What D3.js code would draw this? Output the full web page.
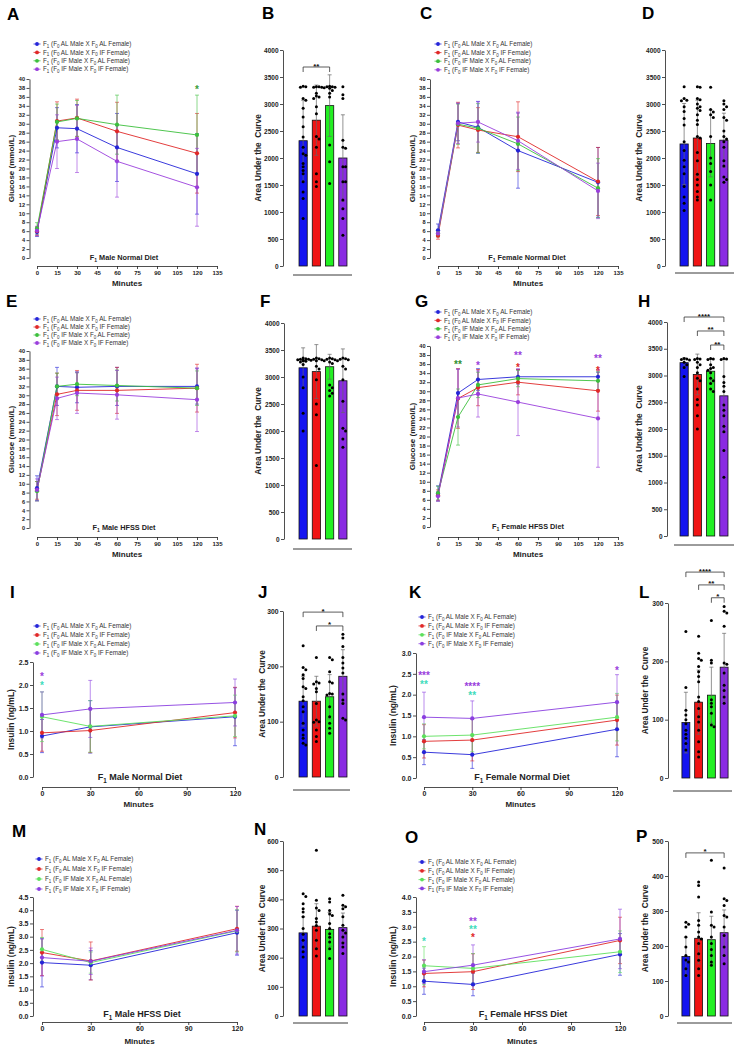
<!DOCTYPE html>
<html>
<head>
<meta charset="utf-8">
<script src="https://cdn.jsdelivr.net/npm/d3@7"></script>
<style>
  body { margin: 0; background: #fff; }
  svg { display: block; font-family: "Liberation Sans", Arial, sans-serif; }
</style>
</head>
<body>
<script>
// ---- groups / ticks ----
const groupLabels = [
  "F_1 (F_0 AL Male X F_0 AL Female)",
  "F_1 (F_0 AL Male X F_0 IF Female)",
  "F_1 (F_0 IF Male X F_0 AL Female)",
  "F_1 (F_0 IF Male X F_0 IF Female)"
];
const groupKeys = ["ALxAL", "ALxIF", "IFxAL", "IFxIF"];
const glucTimes = [0, 15, 30, 60, 120];
const insTimes = [0, 30, 120];
const glucXTicks = [0, 15, 30, 45, 60, 75, 90, 105, 120, 135];
const insXTicks = [0, 30, 60, 90, 120];
const glucYTicks = [0, 2, 4, 6, 8, 10, 12, 14, 16, 18, 20, 22, 24, 26, 28, 30, 32, 34, 36, 38, 40];
const insYTicksI = [0, 0.5, 1.0, 1.5, 2.0, 2.5];
const insYTicksK = [0, 0.5, 1.0, 1.5, 2.0, 2.5, 3.0];
const insYTicksM = [0, 0.5, 1.0, 1.5, 2.0, 2.5, 3.0, 3.5, 4.0, 4.5];
const insYTicksO = [0, 0.5, 1.0, 1.5, 2.0, 2.5, 3.0, 3.5, 4.0];
const aucTicksGluc = [0, 500, 1000, 1500, 2000, 2500, 3000, 3500, 4000];
const aucTicks300 = [0, 100, 200, 300];
const aucTicks600 = [0, 100, 200, 300, 400, 500, 600];
const aucTicks500 = [0, 100, 200, 300, 400, 500];

// ---- glucose tolerance (mean / SD), order: ALxAL, ALxIF, IFxAL, IFxIF ----
const glucMaleND = [[5.8, 29.1, 28.9, 24.7, 18.8], [6.0, 30.6, 31.3, 28.3, 23.4], [6.6, 30.4, 31.2, 29.8, 27.5], [6.1, 26.0, 26.6, 21.6, 15.8]];
const glucMaleNDSd = [[1.0, 4.5, 5.4, 7.6, 9.0], [1.0, 4.3, 4.2, 6.5, 8.9], [1.3, 4.0, 4.0, 6.6, 8.9], [1.0, 6.0, 7.5, 8.0, 8.7]];
const glucFemND = [[6.2, 30.4, 29.2, 24.0, 16.9], [5.0, 29.7, 28.6, 27.1, 17.1], [5.5, 29.9, 29.0, 25.5, 15.6], [5.5, 30.1, 30.4, 26.2, 15.0]];
const glucFemNDSd = [[1.4, 4.2, 5.8, 8.4, 7.8], [0.8, 5.1, 5.0, 7.8, 7.6], [0.8, 4.5, 5.5, 6.0, 6.6], [0.7, 4.5, 4.5, 6.4, 6.2]];
const glucMaleHF = [[9.0, 32.0, 31.8, 32.0, 32.0], [8.5, 30.2, 31.1, 31.1, 31.6], [8.3, 32.0, 32.5, 32.2, 31.6], [8.6, 29.3, 30.5, 30.1, 29.0]];
const glucMaleHFSd = [[2.8, 4.3, 3.5, 4.3, 4.0], [2.0, 4.8, 4.5, 5.2, 5.4], [2.2, 3.0, 2.6, 3.5, 3.9], [2.5, 4.8, 4.6, 5.5, 7.2]];
const glucFemHF = [[7.4, 29.6, 32.6, 33.2, 33.2], [7.0, 28.4, 30.8, 32.0, 30.1], [7.5, 24.3, 31.4, 32.8, 32.3], [6.8, 28.5, 29.4, 27.6, 24.0]];
const glucFemHFSd = [[1.7, 5.3, 2.4, 1.6, 1.0], [1.2, 6.6, 4.0, 2.8, 4.5], [1.5, 6.2, 2.8, 1.8, 2.0], [1.0, 6.4, 5.1, 7.4, 10.8]];

// ---- insulin (mean / SD) ----
const insMaleND = [[0.89, 1.09, 1.31], [0.96, 1.01, 1.40], [1.31, 1.10, 1.33], [1.35, 1.48, 1.62]];
const insMaleNDSd = [[0.36, 0.57, 0.63], [0.40, 0.48, 0.55], [0.54, 0.56, 0.45], [0.50, 0.62, 0.51]];
const insFemND = [[0.62, 0.56, 1.17], [0.88, 0.91, 1.39], [1.00, 1.03, 1.46], [1.46, 1.43, 1.82]];
const insFemNDSd = [[0.30, 0.33, 0.66], [0.40, 0.50, 0.60], [0.30, 0.40, 0.57], [0.60, 0.42, 0.66]];
const insMaleHF = [[2.02, 1.92, 3.15], [2.40, 2.08, 3.30], [2.52, 2.02, 3.22], [2.21, 2.07, 3.24]];
const insMaleHFSd = [[0.92, 0.55, 0.85], [0.87, 0.72, 0.85], [0.45, 0.40, 0.80], [0.70, 0.50, 0.90]];
const insFemHF = [[1.17, 1.06, 2.07], [1.43, 1.49, 2.54], [1.69, 1.60, 2.16], [1.49, 1.71, 2.59]];
const insFemHFSd = [[0.44, 0.38, 0.70], [0.45, 0.60, 0.78], [0.64, 0.50, 0.70], [0.40, 0.68, 1.00]];

// ---- area under the curve: bar means, SD, individual animals ----
const aucB = [2320, 2700, 2970, 2000];
const aucBSd = [750, 650, 570, 800];
const aucBDots = [
  [3330, 3320, 3310, 3100, 3070, 2920, 2760, 2580, 2390, 2200, 2080, 2050, 1900, 1840, 1770, 1710, 1560, 1370, 1250, 880],
  [3320, 3320, 3310, 3310, 3200, 3150, 3130, 3100, 2950, 2820, 2400, 2350, 2200, 1710, 1560, 1470],
  [3330, 3320, 3320, 3310, 3300, 3290, 3250, 3200, 3130, 2240, 1930, 1530],
  [3320, 3170, 3100, 2330, 2200, 2180, 1840, 1840, 1560, 1560, 1220, 1060, 880, 570]
];
const aucD = [2260, 2370, 2270, 2330];
const aucDSd = [750, 700, 620, 500];
const aucDDots = [
  [3320, 3100, 3070, 3060, 2950, 2860, 2730, 2610, 2300, 2140, 1960, 1840, 1710, 1470, 1280, 1160, 1030],
  [3320, 3310, 3100, 3080, 3000, 2950, 2920, 2880, 2800, 2700, 2620, 2400, 2370, 2100, 1950, 1700, 1600, 1500, 1380, 1280, 1220],
  [3310, 2900, 2850, 2800, 2750, 2400, 2000, 1900, 1750, 1500, 1220],
  [3060, 3000, 2950, 2900, 2750, 2700, 2500, 2400, 2350, 2300, 2200, 1950, 1850, 1650, 1600, 1550]
];
const aucF = [3170, 3100, 3190, 2930];
const aucFSd = [370, 500, 230, 590];
const aucFDots = [
  [3350, 3340, 3330, 3330, 3320, 3310, 3300, 3290, 3280, 3230, 3000, 2800, 2330, 2000],
  [3350, 3340, 3330, 3320, 3310, 3300, 3200, 3150, 2950, 2500, 2300, 1360],
  [3350, 3340, 3330, 3320, 3300, 3280, 3250, 2850, 2800, 2750, 2700, 2650],
  [3350, 3340, 3330, 3320, 3300, 3200, 3150, 2950, 2550, 2050, 2000, 1850, 1700]
];
const aucH = [3240, 3020, 3080, 2620];
const aucHSd = [90, 380, 220, 680];
const aucHDots = [
  [3320, 3310, 3300, 3290, 3250, 3200, 3150, 2980],
  [3320, 3310, 3300, 3250, 3200, 3150, 3050, 2950, 2900, 2750, 2550, 2450, 2250, 2000],
  [3320, 3310, 3300, 3200, 3150, 3130, 3100, 3050, 2950, 2900, 2850, 2750, 2700],
  [3320, 3310, 3300, 2980, 2870, 2800, 2700, 2450, 2350, 2250, 2050, 1950, 1600, 1100]
];
const aucJ = [137, 137, 145, 182];
const aucJSd = [45, 45, 40, 48];
const aucJDots = [
  [237, 198, 194, 185, 178, 163, 160, 145, 138, 127, 118, 97, 85, 76, 70, 61, 58],
  [216, 172, 170, 168, 160, 154, 133, 103, 100, 99, 85, 73, 64],
  [216, 212, 190, 172, 170, 151, 150, 148, 127, 109, 97, 88, 79],
  [258, 251, 236, 216, 206, 197, 188, 150, 139, 133, 106, 103]
];
const aucL = [95, 130, 142, 190];
const aucLSd = [52, 55, 48, 58];
const aucLDots = [
  [251, 155, 116, 108, 100, 93, 82, 75, 68, 59, 48],
  [243, 214, 205, 202, 191, 182, 174, 165, 139, 131, 119, 105, 96, 82, 62, 45, 36],
  [270, 202, 197, 134, 128, 122, 111, 91, 88],
  [294, 286, 283, 260, 197, 195, 180, 159, 150, 139, 128]
];
const aucN = [285, 308, 297, 303];
const aucNSd = [55, 77, 58, 50];
const aucNDots = [
  [419, 410, 385, 368, 357, 340, 300, 280, 260, 237, 220, 202],
  [568, 397, 370, 362, 334, 322, 310, 294, 260, 231, 206],
  [402, 391, 362, 350, 345, 317, 300, 282, 270, 254, 231, 197],
  [414, 380, 375, 368, 340, 311, 294, 285, 271, 250, 237, 214]
];
const aucP = [170, 222, 218, 238];
const aucPSd = [55, 73, 67, 65];
const aucPDots = [
  [268, 262, 254, 226, 197, 173, 160, 154, 135, 116],
  [383, 373, 340, 273, 259, 240, 226, 220, 207, 178, 159, 135, 116],
  [445, 297, 259, 254, 226, 207, 190, 173, 154, 145],
  [423, 335, 330, 316, 287, 283, 254, 230, 197, 173, 149]
];

// ---- styles ----
const lineColors = ["#2424d8", "#e02828", "#3cbf3c", "#9a3edc"];
const lineColorsIns = ["#2424d8", "#e02828", "#5ce05c", "#8a3ee0"];
const barColors = ["#1414f0", "#f01414", "#22f022", "#8a2be2"];
const teal = "#3fdcbc";
const ink = "#222";

const svg = d3.select("body").append("svg").attr("width", 742).attr("height", 1053);
svg.append("rect").attr("width", 742).attr("height", 1053).attr("fill", "#fff");

// text with "_d" subscripts
function rich(t, str, fs) {
  const parts = str.split(/_(\d)/);
  let shift = 0;
  parts.forEach((p, i) => {
    if (i % 2 === 1) {
      t.append("tspan").attr("font-size", fs * 0.7).attr("dy", fs * 0.28).text(p);
      shift = -fs * 0.28;
    } else if (p) {
      t.append("tspan").attr("dy", shift).text(p);
      shift = 0;
    }
  });
  return t;
}

function styleAxis(ax, fs) {
  ax.attr("font-family", null).attr("font-size", fs).attr("font-weight", "bold");
  ax.select(".domain").attr("stroke", ink).attr("stroke-width", 0.8);
  ax.selectAll(".tick line").attr("stroke", ink).attr("stroke-width", 0.8);
  ax.selectAll(".tick text").attr("fill", ink);
}

function letter(ch, x, y) {
  svg.append("text").attr("x", x).attr("y", y).attr("font-size", 17).attr("font-weight", "bold")
    .attr("fill", "#000").text(ch);
}

function linePanel(o) {
  const g = svg.append("g");
  const x = d3.scaleLinear().domain([0, o.xTicks[o.xTicks.length - 1]]).range(o.xRange);
  const y = d3.scaleLinear().domain([0, o.yTicks[o.yTicks.length - 1]]).range(o.yRange);

  const yAx = g.append("g").attr("transform", `translate(${o.axisX},0)`)
    .call(d3.axisLeft(y).tickValues(o.yTicks).tickSize(3).tickSizeOuter(0).tickPadding(1.5)
      .tickFormat(o.yFmt));
  styleAxis(yAx, o.yFs);
  const xAx = g.append("g").attr("transform", `translate(0,${o.xAxisY})`)
    .call(d3.axisBottom(x).tickValues(o.xTicks).tickSize(3).tickSizeOuter(0).tickPadding(1.5));
  styleAxis(xAx, o.xFs);

  g.append("text").attr("x", (o.xRange[0] + o.xRange[1]) / 2).attr("y", o.xAxisY + o.minDy)
    .attr("text-anchor", "middle").attr("font-size", 8).attr("font-weight", "bold").attr("fill", ink)
    .text("Minutes");
  g.append("text")
    .attr("transform", `translate(${o.yLabelX},${(o.yRange[0] + o.yRange[1]) / 2}) rotate(-90)`)
    .attr("text-anchor", "middle").attr("font-size", o.yLabelFs).attr("font-weight", "bold").attr("fill", ink)
    .text(o.yLabel);
  rich(g.append("text").attr("x", o.titleX).attr("y", o.titleY).attr("text-anchor", "middle")
    .attr("font-size", o.titleFs).attr("font-weight", "bold").attr("fill", ink), o.title, o.titleFs);

  const series = o.means.map((m, i) => o.times.map((t, j) => ({ t, m: m[j], s: o.sd[i][j], i })));
  const line = d3.line().x(d => x(d.t)).y(d => y(d.m));

  series.forEach(pts => {
    g.append("g").selectAll("path").data(pts).join("path")
      .attr("d", d => `M${x(d.t) - 2},${y(d.m + d.s)}h4M${x(d.t)},${y(d.m + d.s)}V${y(d.m - d.s)}M${x(d.t) - 2},${y(d.m - d.s)}h4`)
      .attr("stroke", o.colors[pts[0].i]).attr("stroke-width", 0.7).attr("fill", "none").attr("opacity", 0.85);
  });
  series.forEach(pts => {
    g.append("path").datum(pts).attr("d", line).attr("fill", "none")
      .attr("stroke", o.colors[pts[0].i]).attr("stroke-width", 0.9);
  });
  series.forEach(pts => {
    g.append("g").selectAll("circle").data(pts).join("circle")
      .attr("cx", d => x(d.t)).attr("cy", d => y(d.m)).attr("r", 2.1)
      .attr("fill", o.colors[pts[0].i]);
  });

  // legend
  const lg = g.append("g");
  groupLabels.forEach((lab, i) => {
    const ly = o.legend[1] + i * o.legend[2];
    lg.append("line").attr("x1", o.legend[0] - 3.5).attr("x2", o.legend[0] + 3.5).attr("y1", ly).attr("y2", ly)
      .attr("stroke", o.colors[i]).attr("stroke-width", 0.8);
    lg.append("circle").attr("cx", o.legend[0]).attr("cy", ly).attr("r", 1.9).attr("fill", o.colors[i]);
    rich(lg.append("text").attr("x", o.legend[0] + 6).attr("y", ly + 2.2).attr("font-size", 6.3)
      .attr("fill", "#333"), lab, 6.3);
  });

  // significance stars (glyph sits high in the em box, so baseline is pushed down)
  (o.stars || []).forEach(s => {
    g.append("text").attr("x", x(s.t)).attr("y", y(s.v) + 4.6).attr("text-anchor", "middle")
      .attr("font-size", 10).attr("font-weight", "bold").attr("fill", s.c).text(s.txt);
  });
}

function swarm(vals, y, r, half) {
  const order = vals.map((v, i) => i).sort((a, b) => vals[b] - vals[a]);
  const placed = [];
  const off = vals.map(() => 0);
  const step = 2 * r * 0.9;
  order.forEach(i => {
    const py = y(vals[i]);
    let chosen = 0;
    for (let k = 0; k < 9; k++) {
      const c = k === 0 ? 0 : (k % 2 ? 1 : -1) * Math.ceil(k / 2) * step;
      if (Math.abs(c) > half) continue;
      const ok = placed.every(p => (c - p.x) ** 2 + (py - p.y) ** 2 >= (2 * r * 0.9) ** 2);
      if (ok) { chosen = c; break; }
    }
    placed.push({ x: chosen, y: py });
    off[i] = chosen;
  });
  return off;
}

function aucPanel(o) {
  const g = svg.append("g");
  const y = d3.scaleLinear().domain([0, o.yTicks[o.yTicks.length - 1]]).range(o.yRange);
  const x = d3.scaleBand().domain(groupKeys).range(o.xRange).paddingInner(0.38).paddingOuter(0.19);
  const bw = x.bandwidth();

  const yAx = g.append("g").attr("transform", `translate(${o.axisX},0)`)
    .call(d3.axisLeft(y).tickValues(o.yTicks).tickSize(3).tickSizeOuter(0).tickPadding(1.5)
      .tickFormat(d3.format("d")));
  styleAxis(yAx, o.yFs);

  g.append("text")
    .attr("transform", `translate(${o.yLabelX},${(o.yRange[0] + o.yRange[1]) / 2}) rotate(-90)`)
    .attr("text-anchor", "middle").attr("font-size", 8.3).attr("font-weight", "bold").attr("fill", ink)
    .style("white-space", "pre").text("Area Under the  Curve");

  const rows = groupKeys.map((k, i) => ({ k, m: o.means[i], s: o.sd[i], i }));
  g.selectAll("rect.bar").data(rows).join("rect").attr("class", "bar")
    .attr("x", d => x(d.k)).attr("width", bw)
    .attr("y", d => y(d.m)).attr("height", d => y(0) - y(d.m))
    .attr("fill", d => barColors[d.i]).attr("stroke", "#111").attr("stroke-width", 0.8);

  g.selectAll("path.err").data(rows).join("path").attr("class", "err")
    .attr("d", d => {
      const cx = x(d.k) + bw / 2;
      return `M${cx - 2},${y(d.m + d.s)}h4M${cx},${y(d.m + d.s)}V${y(d.m - d.s)}M${cx - 2},${y(d.m - d.s)}h4`;
    })
    .attr("stroke", "#666").attr("stroke-width", 0.7).attr("fill", "none");

  o.dots.forEach((vals, i) => {
    const offs = swarm(vals, y, 1.5, bw / 2 + 2);
    const cx = x(groupKeys[i]) + bw / 2;
    g.append("g").selectAll("circle").data(vals).join("circle")
      .attr("cx", (d, j) => cx + offs[j]).attr("cy", d => y(d)).attr("r", 1.5).attr("fill", "#000");
  });

  g.append("line").attr("x1", o.base[0]).attr("x2", o.base[1]).attr("y1", o.base[2]).attr("y2", o.base[2])
    .attr("stroke", ink).attr("stroke-width", 0.9);

  (o.brackets || []).forEach(b => {
    const x1 = x(groupKeys[b.a]) + bw / 2, x2 = x(groupKeys[b.b]) + bw / 2, yy = y(b.v);
    g.append("path").attr("d", `M${x1},${yy + 5}V${yy}H${x2}V${yy + 5}`)
      .attr("stroke", "#333").attr("stroke-width", 0.8).attr("fill", "none");
    g.append("text").attr("x", (x1 + x2) / 2).attr("y", yy + 1.5).attr("text-anchor", "middle")
      .attr("font-size", 8).attr("font-weight", "bold").attr("fill", "#111").text(b.txt);
  });
}

const fmt0 = d3.format("d");
const fmt1 = d3.format(".1f");

// ---- glucose rows 1 and 2 ----
linePanel({ xTicks: glucXTicks, xRange: [37, 217], yTicks: glucYTicks, yRange: [258, 79], axisX: 29.5, xAxisY: 266,
  yFmt: fmt0, yFs: 5.6, xFs: 6, minDy: 20, yLabelX: 14, yLabelFs: 8, yLabel: "Glucose (mmol/L)",
  title: "F_1 Male Normal Diet", titleX: 124, titleY: 260, titleFs: 7.3,
  times: glucTimes, means: glucMaleND, sd: glucMaleNDSd, colors: lineColors, legend: [37, 44, 8.4],
  stars: [{ t: 120, v: 37.8, txt: "*", c: "#3a9e3a" }] });
linePanel({ xTicks: glucXTicks, xRange: [438, 618], yTicks: glucYTicks, yRange: [258, 79], axisX: 430, xAxisY: 266,
  yFmt: fmt0, yFs: 5.6, xFs: 6, minDy: 20, yLabelX: 415, yLabelFs: 8, yLabel: "Glucose (mmol/L)",
  title: "F_1 Female Normal Diet", titleX: 527, titleY: 260, titleFs: 7.3,
  times: glucTimes, means: glucFemND, sd: glucFemNDSd, colors: lineColors, legend: [438, 44, 8.6] });
linePanel({ xTicks: glucXTicks, xRange: [37, 217], yTicks: glucYTicks, yRange: [528, 351], axisX: 29.5, xAxisY: 537,
  yFmt: fmt0, yFs: 5.6, xFs: 6, minDy: 20, yLabelX: 14, yLabelFs: 8, yLabel: "Glucose (mmol/L)",
  title: "F_1 Male HFSS Diet", titleX: 124, titleY: 530, titleFs: 7.3,
  times: glucTimes, means: glucMaleHF, sd: glucMaleHFSd, colors: lineColors, legend: [37, 319, 8] });
linePanel({ xTicks: glucXTicks, xRange: [438, 618], yTicks: glucYTicks, yRange: [527, 346], axisX: 430, xAxisY: 537,
  yFmt: fmt0, yFs: 5.6, xFs: 6, minDy: 20, yLabelX: 415, yLabelFs: 8, yLabel: "Glucose (mmol/L)",
  title: "F_1 Female HFSS Diet", titleX: 528, titleY: 529, titleFs: 7.3,
  times: glucTimes, means: glucFemHF, sd: glucFemHFSd, colors: lineColors, legend: [438, 312, 8.4],
  stars: [
    { t: 15, v: 36.2, txt: "**", c: "#2e8f2e" },
    { t: 30, v: 36.0, txt: "*", c: "#9a3edc" },
    { t: 60, v: 38.1, txt: "**", c: "#9a3edc" },
    { t: 60, v: 35.6, txt: "*", c: "#e02828" },
    { t: 120, v: 37.4, txt: "**", c: "#9a3edc" },
    { t: 120, v: 34.9, txt: "*", c: "#e02828" }
  ] });

// ---- insulin rows 3 and 4 ----
linePanel({ xTicks: insXTicks, xRange: [42, 235], yTicks: insYTicksI, yRange: [777, 662], axisX: 33, xAxisY: 787,
  yFmt: fmt1, yFs: 7, xFs: 7, minDy: 20, yLabelX: 14, yLabelFs: 8.5, yLabel: "Insulin (ng/mL)",
  title: "F_1 Male Normal Diet", titleX: 140, titleY: 780, titleFs: 9,
  times: insTimes, means: insMaleND, sd: insMaleNDSd, colors: lineColorsIns, legend: [37, 626, 9],
  stars: [{ t: 0, v: 2.2, txt: "*", c: "#9a3edc" }, { t: 0, v: 2.01, txt: "*", c: teal }] });
linePanel({ xTicks: insXTicks, xRange: [424, 617], yTicks: insYTicksK, yRange: [778, 653], axisX: 416, xAxisY: 787,
  yFmt: fmt1, yFs: 7, xFs: 7, minDy: 20, yLabelX: 396, yLabelFs: 8.5, yLabel: "Insulin (ng/mL)",
  title: "F_1 Female Normal Diet", titleX: 522, titleY: 780, titleFs: 9,
  times: insTimes, means: insFemND, sd: insFemNDSd, colors: lineColorsIns, legend: [422, 617, 8.9],
  stars: [
    { t: 0, v: 2.49, txt: "***", c: "#9a3edc" }, { t: 0, v: 2.28, txt: "**", c: teal },
    { t: 30, v: 2.22, txt: "****", c: "#9a3edc" }, { t: 30, v: 2.01, txt: "**", c: teal },
    { t: 120, v: 2.61, txt: "*", c: "#9a3edc" }
  ] });
linePanel({ xTicks: insXTicks, xRange: [42, 237], yTicks: insYTicksM, yRange: [1016, 897], axisX: 33, xAxisY: 1022,
  yFmt: fmt1, yFs: 7, xFs: 7, minDy: 22, yLabelX: 14, yLabelFs: 8.5, yLabel: "Insulin (ng/mL)",
  title: "F_1 Male HFSS Diet", titleX: 142, titleY: 1017, titleFs: 9,
  times: insTimes, means: insMaleHF, sd: insMaleHFSd, colors: lineColorsIns, legend: [39, 859, 10] });
linePanel({ xTicks: insXTicks, xRange: [424, 620], yTicks: insYTicksO, yRange: [1016, 897], axisX: 416, xAxisY: 1022,
  yFmt: fmt1, yFs: 7, xFs: 7, minDy: 22, yLabelX: 396, yLabelFs: 8.5, yLabel: "Insulin (ng/mL)",
  title: "F_1 Female HFSS Diet", titleX: 523, titleY: 1017, titleFs: 9,
  times: insTimes, means: insFemHF, sd: insFemHFSd, colors: lineColorsIns, legend: [422, 862, 8.8],
  stars: [
    { t: 0, v: 2.53, txt: "*", c: teal },
    { t: 30, v: 3.23, txt: "**", c: "#9a3edc" }, { t: 30, v: 2.95, txt: "**", c: teal },
    { t: 30, v: 2.68, txt: "*", c: "#e02828" }
  ] });

// ---- AUC bars ----
aucPanel({ yTicks: aucTicksGluc, yRange: [266, 50], axisX: 283, yFs: 6.5, yLabelX: 261, xRange: [296.5, 349.5],
  base: [293, 352, 275], means: aucB, sd: aucBSd, dots: aucBDots, brackets: [{ a: 0, b: 2, v: 3685, txt: "**" }] });
aucPanel({ yTicks: aucTicksGluc, yRange: [266, 50], axisX: 665, yFs: 6.5, yLabelX: 642, xRange: [677.5, 730.5],
  base: [675, 734, 273], means: aucD, sd: aucDSd, dots: aucDDots });
aucPanel({ yTicks: aucTicksGluc, yRange: [539, 323], axisX: 284, yFs: 6.5, yLabelX: 261, xRange: [296.5, 349.5],
  base: [293, 352, 549], means: aucF, sd: aucFSd, dots: aucFDots });
aucPanel({ yTicks: aucTicksGluc, yRange: [536, 322], axisX: 667, yFs: 6.5, yLabelX: 642, xRange: [677.5, 730.5],
  base: [674, 734, 545], means: aucH, sd: aucHSd, dots: aucHDots,
  brackets: [{ a: 0, b: 3, v: 4093, txt: "****" }, { a: 1, b: 3, v: 3832, txt: "**" }, { a: 2, b: 3, v: 3570, txt: "**" }] });
aucPanel({ yTicks: aucTicks300, yRange: [777, 611], axisX: 283, yFs: 6.8, yLabelX: 265, xRange: [296.5, 349.5],
  base: [293, 350, 790], means: aucJ, sd: aucJSd, dots: aucJDots,
  brackets: [{ a: 0, b: 3, v: 298, txt: "*" }, { a: 1, b: 3, v: 273, txt: "*" }] });
aucPanel({ yTicks: aucTicks300, yRange: [778, 603], axisX: 668, yFs: 6.8, yLabelX: 648, xRange: [679.5, 730.5],
  base: [673, 732, 791], means: aucL, sd: aucLSd, dots: aucLDots,
  brackets: [{ a: 0, b: 3, v: 353, txt: "****" }, { a: 1, b: 3, v: 331, txt: "**" }, { a: 2, b: 3, v: 309, txt: "*" }] });
aucPanel({ yTicks: aucTicks600, yRange: [1016, 841], axisX: 283, yFs: 6.8, yLabelX: 265, xRange: [296.5, 349.5],
  base: [293, 348, 1023], means: aucN, sd: aucNSd, dots: aucNDots });
aucPanel({ yTicks: aucTicks500, yRange: [1016, 841], axisX: 668, yFs: 6.8, yLabelX: 648, xRange: [679.5, 730.5],
  base: [677, 732, 1023], means: aucP, sd: aucPSd, dots: aucPDots,
  brackets: [{ a: 0, b: 3, v: 466, txt: "*" }] });

// ---- panel letters ----
[["A", 7, 20], ["B", 262, 19], ["C", 420, 19], ["D", 642, 19],
 ["E", 6, 307], ["F", 260, 307], ["G", 415, 307], ["H", 638, 307],
 ["I", 10, 598], ["J", 258, 598], ["K", 409, 598], ["L", 639, 598],
 ["M", 12, 837], ["N", 254, 835], ["O", 405, 843], ["P", 636, 842]].forEach(d => letter(d[0], d[1], d[2]));
</script>
</body>
</html>
